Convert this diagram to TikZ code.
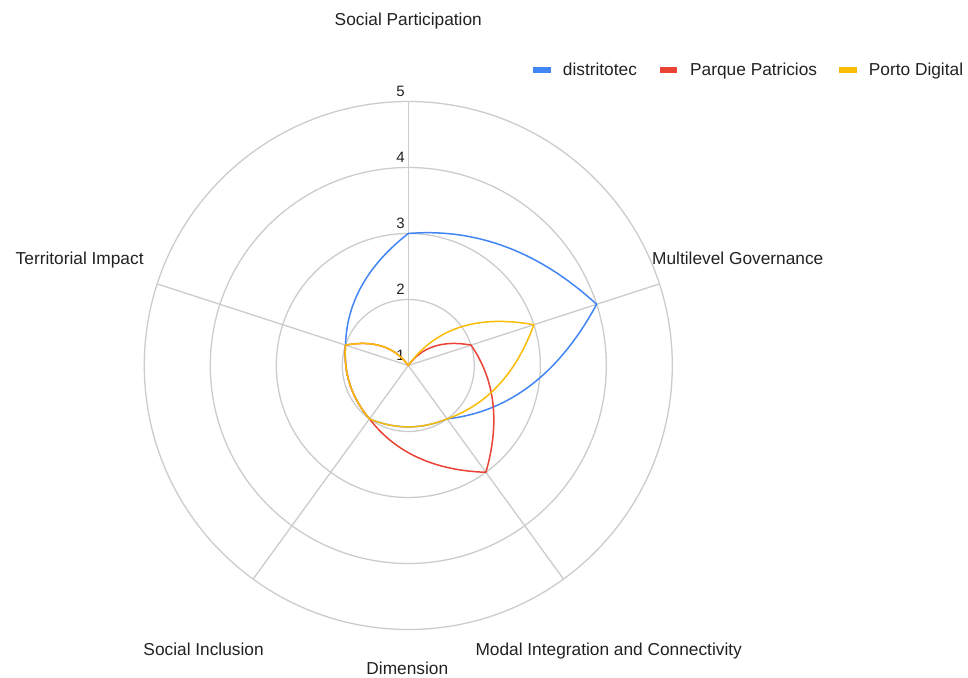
\documentclass[tikz,border=0pt]{standalone}
\usepackage{fontspec}
\setmainfont{Liberation Sans}
\usetikzlibrary{calc}
\definecolor{gridc}{HTML}{CCCCCC}
\definecolor{bluec}{HTML}{4285F4}
\definecolor{redc}{HTML}{EA4335}
\definecolor{yelc}{HTML}{FBBC04}
\definecolor{txtc}{HTML}{222222}
\tikzset{
  lbl/.style={font=\fontsize{17.3}{20}\selectfont, text=txtc, inner sep=0pt},
  ticklbl/.style={font=\fontsize{15}{18}\selectfont, text=txtc, inner sep=0pt, anchor=base east},
  gridline/.style={draw=gridc, line width=1.3pt},
  dataline/.style={line width=1.5pt, line cap=round, line join=round},
}
\newcommand\radseg[5]{%
  \pgfmathsetmacro\rsma{(#2+#4)/2}%
  \pgfmathsetmacro\rsmr{(#3+#5)/2/cos(18)}%
  \draw[dataline,#1] (#2:#3) .. controls ($(#2:#3)!2/3!(\rsma:\rsmr)$) and ($(#4:#5)!2/3!(\rsma:\rsmr)$) .. (#4:#5);%
}
\newcommand\dataseries[6]{%
  \radseg{#1}{90}{#2}{18}{#3}%
  \radseg{#1}{18}{#3}{-54}{#4}%
  \radseg{#1}{-54}{#4}{-126}{#5}%
  \radseg{#1}{-126}{#5}{-198}{#6}%
  \radseg{#1}{-198}{#6}{-270}{#2}%
}
\begin{document}
\begin{tikzpicture}[x=1pt,y=1pt]
\useasboundingbox (-408.3,-311.5) rectangle (559.7,365.5);
\fill[white] (-408.3,-311.5) rectangle (559.7,365.5);
% grid
\foreach \r in {66,132,198,264}{\draw[gridline] (0,0) circle[radius=\r pt];}
\foreach \a in {90,18,-54,-126,162}{\draw[gridline] (0,0) -- (\a:264pt);}
% tick labels
\node[ticklbl] (t1) at (-3.3,5) {1};
\node[ticklbl] (t2) at (-3.3,71) {2};
\node[ticklbl] (t3) at (-3.3,137) {3};
\node[ticklbl] (t4) at (-3.3,203) {4};
\node[ticklbl] (t5) at (-3.3,269) {5};
% data
\dataseries{bluec}{132}{198}{66}{66}{66}
\dataseries{redc}{0}{66}{132}{66}{66}
\dataseries{yelc}{0}{132}{66}{66}{66}
% axis labels
\node[lbl, anchor=base] (lsp) at (0,340) {Social Participation};
\node[lbl, anchor=base west] (lmg) at (243.7,101.3) {Multilevel Governance};
\node[lbl, anchor=base east] (lti) at (-264.5,101.3) {Territorial Impact};
\node[lbl, anchor=base west] (lmo) at (67,-290) {Modal Integration and Connectivity};
\node[lbl, anchor=base west] (lsi) at (-265,-289.5) {Social Inclusion};
\node[lbl, anchor=base] (ldim) at (-1,-309) {Dimension};
% legend
\fill[bluec] (125,292.8) rectangle (142.4,298.2);
\node[lbl, anchor=base west] (leg1) at (154.4,289.5) {distritotec};
\fill[redc] (251.7,292.8) rectangle (269,298.2);
\node[lbl, anchor=base west] (leg2) at (281.7,289.5) {Parque Patricios};
\fill[yelc] (431,292.8) rectangle (448.4,298.2);
\node[lbl, anchor=base west] (leg3) at (460.4,289.5) {Porto Digital};
\end{tikzpicture}
\end{document}
